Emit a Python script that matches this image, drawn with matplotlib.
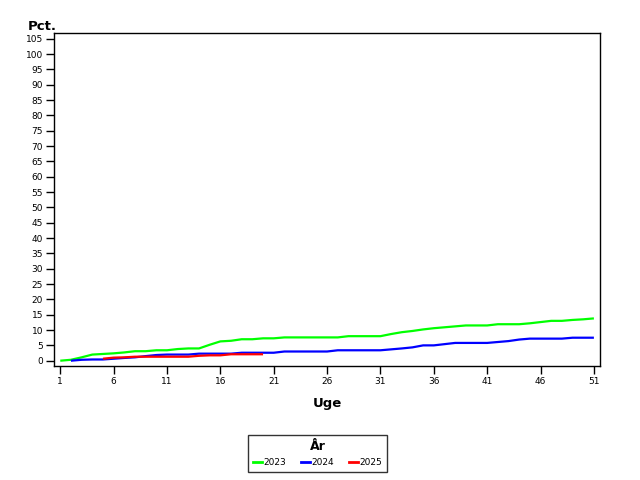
import matplotlib
matplotlib.use("Agg")
import matplotlib.pyplot as plt
from matplotlib.lines import Line2D

plt.rcParams['font.family'] = ['DejaVu Sans']

weeks_2023 = list(range(1, 52))
pct_2023 = [0.0, 0.3, 1.1, 2.0, 2.2, 2.4, 2.7, 3.1, 3.1, 3.4,
            3.4, 3.8, 4.0, 4.0, 5.2, 6.3, 6.5, 7.0, 7.0, 7.3,
            7.3, 7.6, 7.6, 7.6, 7.6, 7.6, 7.6, 8.0, 8.0, 8.0,
            8.0, 8.7, 9.3, 9.7, 10.2, 10.6, 10.9, 11.2, 11.5, 11.5,
            11.5, 11.9, 11.9, 11.9, 12.2, 12.6, 13.0, 13.0, 13.3, 13.5,
            13.8]

weeks_2024 = list(range(2, 52))
pct_2024 = [0.0, 0.3, 0.4, 0.4, 0.65, 0.9, 1.1, 1.5, 1.85, 2.0,
            2.0, 2.0, 2.3, 2.3, 2.3, 2.3, 2.6, 2.6, 2.6, 2.6,
            3.0, 3.0, 3.0, 3.0, 3.0, 3.4, 3.4, 3.4, 3.4, 3.4,
            3.7, 4.0, 4.35, 5.0, 5.0, 5.4, 5.8, 5.8, 5.8, 5.8,
            6.1, 6.4, 6.9, 7.2, 7.2, 7.2, 7.2, 7.5, 7.5, 7.5]

weeks_2025 = list(range(5, 21))
pct_2025 = [0.65, 1.0, 1.1, 1.3, 1.3, 1.3, 1.3, 1.3, 1.3, 1.6,
            1.75, 1.75, 2.1, 2.1, 2.1, 2.1]

series = [("2023", weeks_2023, pct_2023, "#00ff00"),
          ("2024", weeks_2024, pct_2024, "#0000ff"),
          ("2025", weeks_2025, pct_2025, "#ff0000")]

x_ticks = list(range(1, 52, 5))
y_ticks = list(range(0, 106, 5))

fig = plt.figure(figsize=(6.4, 4.8), dpi=100)
ax = fig.add_axes([54.3/640, 1 - 365.7/480, (600.3-54.3)/640, (365.7-33.3)/480])

for label, w, v, c in series:
    ax.plot(w, v, color=c, linewidth=1.6, solid_capstyle='butt')

ax.set_xlim(0.44, 51.6)
ax.set_ylim(-1.63, 106.8)
ax.set_xticks(x_ticks)
ax.set_yticks(y_ticks)
ax.tick_params(axis='both', direction='out', length=6, width=1, labelsize=6.5, pad=2)
for s in ax.spines.values():
    s.set_linewidth(1)

ax.set_xlabel("Uge", fontsize=9.5, fontweight='bold', labelpad=8)
fig.text(28/640, 1 - 27/480, "Pct.", fontsize=9.5, fontweight='bold', va='center', ha='left')

handles = [Line2D([0], [0], color=c, linewidth=2) for _, _, _, c in series]
labels = [s[0] for s in series]
leg = fig.legend(handles, labels, title="År", loc='center',
                 bbox_to_anchor=(317.5/640, 1 - 453.5/480), ncol=3,
                 fontsize=6.5, title_fontsize=9, frameon=True, fancybox=False,
                 edgecolor='black', handlelength=1.0, handletextpad=0.2,
                 columnspacing=1.6, borderpad=0.55)
leg.get_title().set_fontweight('bold')
leg.get_frame().set_linewidth(1)

fig.savefig("out.png", dpi=100)
